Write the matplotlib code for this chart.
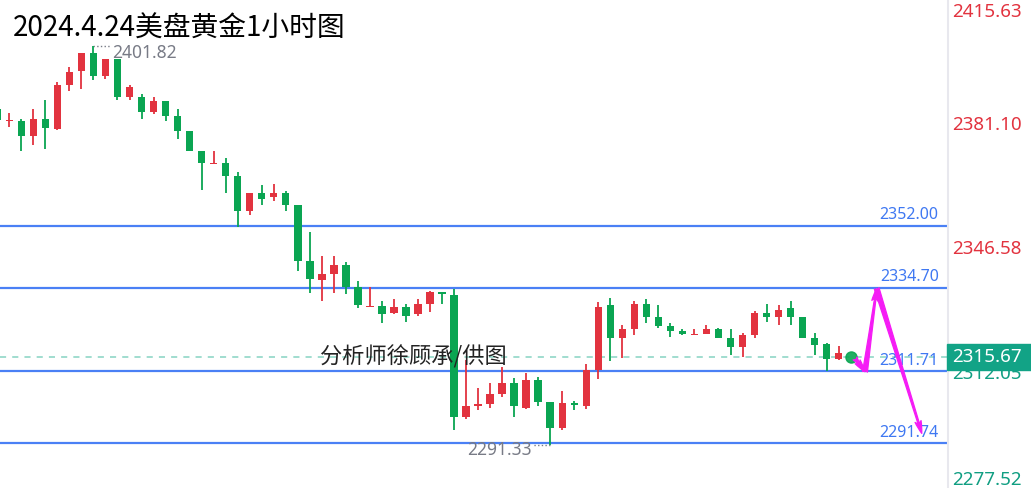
import numpy as np
import matplotlib
matplotlib.use("Agg")
import matplotlib.pyplot as plt
from matplotlib.patches import Rectangle

plt.rcParams['font.family'] = ['Noto Sans CJK SC', 'DejaVu Sans']

# 1h gold candles, first one is cut by the left edge
opens = [2384.31, 2380.9, 2381.07, 2376.84, 2381.46, 2378.78, 2390.96, 2394.75, 2399.74, 2393.54,
         2398.08, 2387.72, 2387.72, 2383.57, 2386.53, 2382.38, 2378.14, 2372.68, 2369.08, 2369.44,
         2365.76, 2356.15, 2360.97, 2359.86, 2360.97, 2357.73, 2342.30, 2336.96, 2338.62, 2341.11,
         2334.94, 2329.57, 2329.84, 2327.90, 2329.40, 2327.54, 2330.31, 2333.55, 2332.81, 2299.10,
         2302.07, 2302.54, 2305.39, 2308.35, 2301.60, 2309.27, 2303.26, 2295.89, 2302.81, 2302.07,
         2312.04, 2330.04, 2320.81, 2323.31, 2330.31, 2326.63, 2324.22, 2322.84, 2321.73, 2322.09,
         2323.31, 2320.81, 2318.32, 2321.73, 2327.90, 2326.63, 2329.12, 2326.63, 2320.81, 2319.24,
         2315.00]
closes = [2381.27, 2381.1, 2376.84, 2381.46, 2378.97, 2390.96, 2394.64, 2399.74, 2393.54, 2398.08,
          2387.72, 2390.49, 2383.57, 2386.53, 2382.38, 2378.14, 2372.68, 2369.44, 2369.44, 2365.76,
          2356.15, 2360.97, 2359.47, 2360.97, 2357.81, 2342.30, 2337.15, 2338.54, 2341.11, 2334.94,
          2330.04, 2329.84, 2327.54, 2329.40, 2327.07, 2330.23, 2333.72, 2333.08, 2298.94, 2302.07,
          2302.54, 2305.31, 2308.35, 2302.07, 2309.27, 2303.26, 2296.06, 2302.81, 2302.34, 2312.04,
          2329.57, 2320.81, 2323.31, 2330.31, 2326.63, 2324.22, 2322.84, 2322.09, 2322.09, 2323.31,
          2320.81, 2318.32, 2321.73, 2327.90, 2326.63, 2328.65, 2326.63, 2320.81, 2318.96, 2315.00,
          2316.66]
highs = [2384.87, 2383.21, 2381.46, 2384.31, 2386.81, 2391.71, 2395.86, 2399.91, 2401.82, 2398.24,
         2398.24, 2390.96, 2388.39, 2387.72, 2386.60, 2384.31, 2378.20, 2372.70, 2372.68, 2370.66,
         2366.95, 2361.00, 2363.18, 2363.46, 2361.61, 2357.80, 2350.17, 2343.61, 2343.61, 2342.03,
         2336.68, 2334.94, 2331.14, 2331.61, 2330.23, 2331.61, 2334.00, 2333.60, 2334.38, 2314.81,
         2306.97, 2308.35, 2312.95, 2309.90, 2311.12, 2310.01, 2303.30, 2306.22, 2303.45, 2313.70,
         2330.78, 2332.06, 2324.50, 2331.14, 2331.70, 2330.04, 2324.97, 2323.39, 2323.39, 2324.50,
         2323.67, 2323.31, 2322.20, 2328.37, 2330.31, 2330.04, 2331.14, 2326.70, 2322.20, 2319.60,
         2318.68]
lows = [2380.71, 2379.33, 2372.77, 2374.35, 2373.15, 2378.50, 2389.30, 2389.77, 2392.35, 2392.62,
        2386.81, 2386.81, 2381.46, 2382.93, 2380.99, 2376.01, 2372.60, 2361.88, 2369.00, 2361.13,
        2351.55, 2354.88, 2357.73, 2358.92, 2356.15, 2339.53, 2333.28, 2331.23, 2333.28, 2333.00,
        2329.12, 2329.50, 2324.97, 2327.54, 2325.41, 2326.99, 2328.18, 2330.31, 2295.42, 2298.38,
        2300.96, 2301.60, 2304.48, 2298.94, 2301.15, 2302.07, 2291.33, 2295.42, 2300.96, 2301.24,
        2309.54, 2314.61, 2315.44, 2321.73, 2324.97, 2323.75, 2321.26, 2321.73, 2321.70, 2322.00,
        2320.80, 2316.19, 2315.72, 2320.81, 2325.41, 2324.50, 2324.50, 2320.80, 2316.19, 2311.71,
        2314.81]

last_price = 2315.67
level_lines = [2352.00, 2334.70, 2311.71, 2291.74]
axis_labels = [2415.63, 2381.10, 2346.58, 2312.05, 2277.52]
high_label, low_label = 2401.82, 2291.33
# forecast path drawn in magenta: (bar position, price)
path_x = [70.36, 71.19, 72.16, 75.91]
path_y = [2315.28, 2311.56, 2334.66, 2294.51]

title = '2024.4.24美盘黄金1小时图'
watermark = '分析师徐顾承/供图'

up_col = '#e2333f'
down_col = '#0aa552'
blue = '#4a80f5'

W, H = 1031, 488
fig = plt.figure(figsize=(W / 100, H / 100), dpi=100)
ax = fig.add_axes([0, 0, 947 / W, 1])
ax.set_xlim(-0.774, 78.01)
ax.set_ylim(2279.4, 2414.5)
ax.axis('off')

n = len(opens)
xs = np.arange(n) - 1
o = np.array(opens)
c = np.array(closes)
cols = [up_col if cc >= oo else down_col for oo, cc in zip(o, c)]
ax.vlines(xs, lows, highs, colors=cols, lw=1.3, zorder=3)
bottom = np.minimum(o, c)
height = np.maximum(np.abs(c - o), 0.35)
ax.bar(xs, height, bottom=bottom, width=0.62, color=cols, zorder=4)

# last tick marker
ax.plot([xs[-1] + 1], [last_price], 'o', color=down_col, ms=8, zorder=5, alpha=0.9)

for lv in level_lines:
    ax.axhline(lv, color=blue, lw=1.6, zorder=2)
    ax.annotate(f'{lv:.2f}', (1, lv), xycoords=('axes fraction', 'data'),
                xytext=(-6, 2), textcoords='offset points', ha='right', va='bottom',
                color='#3f78f2', fontsize=11.5, family=['Noto Sans', 'DejaVu Sans'])

ax.axhline(last_price, color='#86d3c2', lw=1.1, ls=(0, (4, 4)), zorder=1)

# high / low tags
ax.plot([7.0, 8.4], [high_label, high_label], ls=':', color='#787b86', lw=1)
ax.annotate(f'{high_label:.2f}', (8.55, high_label), xytext=(0, -5.5), textcoords='offset points',
            ha='left', va='center', color='#787b86', fontsize=12.5, family=['Noto Sans', 'DejaVu Sans'])
ax.plot([45.0, 43.6], [low_label, low_label], ls=':', color='#787b86', lw=1)
ax.annotate(f'{low_label:.2f}', (43.5, low_label), xytext=(0, -4), textcoords='offset points',
            ha='right', va='center', color='#787b86', fontsize=12.5, family=['Noto Sans', 'DejaVu Sans'])

# forecast arrows
for k in range(len(path_x) - 1):
    ax.annotate('', xy=(path_x[k + 1], path_y[k + 1]), xytext=(path_x[k], path_y[k]),
                arrowprops=dict(arrowstyle='fancy,head_width=0.45,head_length=0.9,tail_width=0.35',
                                color='#f51cf5', lw=0.9, shrinkA=0, shrinkB=0), zorder=6)

fig.text(13 / W, 1 - 29 / H, title, fontsize=20, color='black', va='center', ha='left')
ax.text(25.85, last_price, watermark, fontsize=16, color='#222222', va='center', ha='left', zorder=7)

# right price scale
fig.add_artist(plt.Line2D([947.5 / W, 947.5 / W], [0, 1], color='#e8e8ee', lw=1.5))
to_px = ax.transData
for v in axis_labels:
    ypx = H - to_px.transform((0, v))[1] + 4
    ypx = min(max(ypx, 12), 480)
    col = up_col if v > last_price else '#109e82'
    fig.text(1022 / W, 1 - ypx / H, f'{v:.2f}', ha='right', va='center', color=col,
             fontsize=13.5, family=['Noto Sans', 'DejaVu Sans'])

ypx = H - to_px.transform((0, last_price))[1]
fig.add_artist(Rectangle((947 / W, 1 - (ypx + 13) / H), 84 / W, 26 / H,
                         transform=fig.transFigure, color='#12a386', zorder=10))
fig.text(1022 / W, 1 - ypx / H, f'{last_price:.2f}', ha='right', va='center', color='white',
         fontsize=13.5, fontweight='bold', family=['Noto Sans', 'DejaVu Sans'], zorder=11)

fig.savefig('out.png', dpi=100)
